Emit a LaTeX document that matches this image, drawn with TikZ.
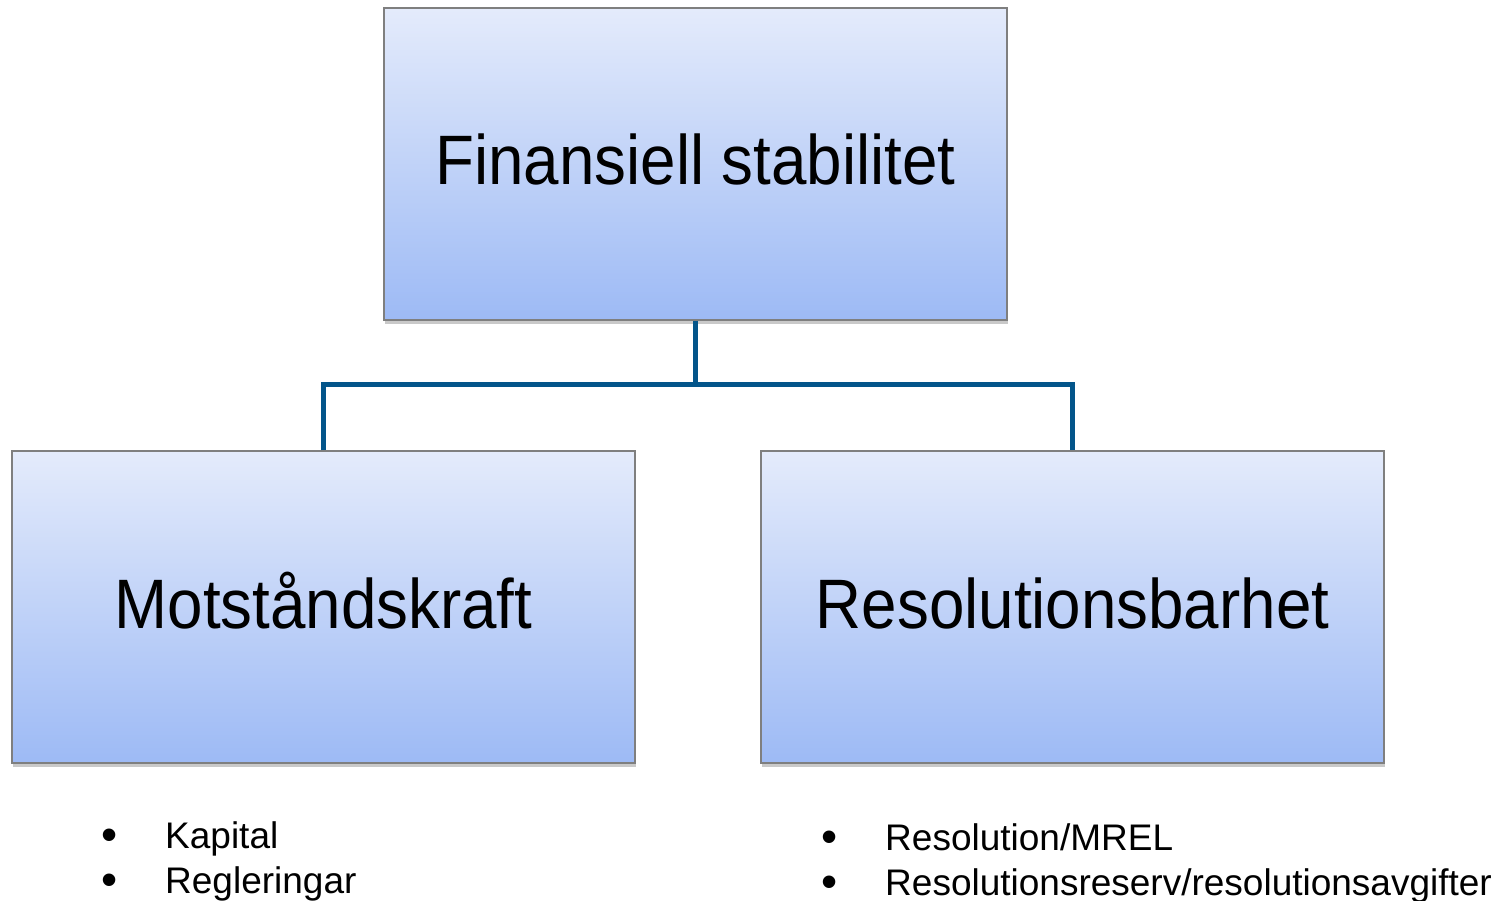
\documentclass[tikz,border=0pt]{standalone}
\usepackage{fontspec}
\setmainfont{Liberation Sans}
\usetikzlibrary{shadows}
\definecolor{boxtop}{HTML}{E4EBFB}
\definecolor{boxbot}{HTML}{9DBAF5}
\definecolor{boxline}{HTML}{7F7F7F}
\definecolor{conn}{HTML}{03558A}
\begin{document}
\begin{tikzpicture}[x=1pt,y=-1pt,
  boxnode/.style={draw=boxline, line width=1.5pt, top color=boxtop, bottom color=boxbot,
    minimum width=623pt, minimum height=312pt, inner sep=0pt,
    drop shadow={shadow xshift=1pt, shadow yshift=-4pt, opacity=0.3, fill=black!70},
    font=\fontsize{70}{84}\selectfont, text height=50pt, text depth=8pt},
  connector/.style={draw=conn, line width=5pt},
  listitem/.style={anchor=base west, inner sep=0pt, font=\fontsize{37}{44}\selectfont},
  bulletmark/.style={anchor=base, inner sep=0pt, font=\fontsize{46}{50}\selectfont}]
\useasboundingbox (0,0) rectangle (1495,901);
\node[boxnode] (top) at (695.5,164) {\scalebox{0.91}[1]{Finansiell stabilitet}};
\node[boxnode] (left) at (323.5,607) {\scalebox{0.91}[1]{Motståndskraft}};
\node[boxnode] (right) at (1072.5,607) {\scalebox{0.91}[1]{Resolutionsbarhet}};
\coordinate (j) at (695.5,384);
\draw[connector] (top.south) -- (j);
\draw[connector] (left.north) |- (j) -| (right.north);
\node[bulletmark] (b1) at (110,850) {•};
\node[listitem] (k1) at (165,848) {Kapital};
\node[bulletmark] (b2) at (110,895) {•};
\node[listitem] (k2) at (165,893) {Regleringar};
\node[bulletmark] (b3) at (830,852) {•};
\node[listitem] (r1) at (885,850) {Resolution/MREL};
\node[bulletmark] (b4) at (830,897) {•};
\node[listitem] (r2) at (885,895) {Resolutionsreserv/resolutionsavgifter};
\end{tikzpicture}
\end{document}
